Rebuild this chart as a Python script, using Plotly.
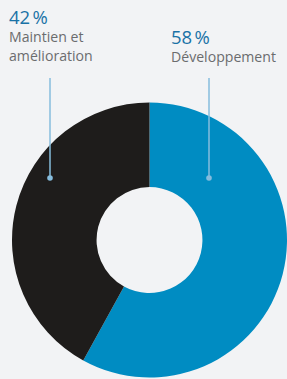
import plotly.graph_objects as go

categories = ["Développement", "Maintien et amélioration"]
values = [58, 42]
pct_labels = ["58\u202f%", "42\u202f%"]
name_labels = ["Développement", "Maintien et<br>amélioration"]
colors = ["#008cc2", "#1e1c1b"]

W, H = 287, 379
BG = "#f2f3f5"

def fx(px):
    return px / W

def fy(py):
    return 1 - py / H

fig = go.Figure(go.Pie(
    labels=categories,
    values=values,
    hole=0.385,
    sort=False,
    direction="clockwise",
    rotation=0,
    marker=dict(colors=colors, line=dict(width=0)),
    textinfo="none",
    hoverinfo="label+percent",
    showlegend=False,
    domain=dict(x=[fx(12), 1.0], y=[fy(377.5), fy(102.5)]),
))

FONT = "Open Sans"
BLUE_TXT = "#1a72a6"
GRAY_TXT = "#6b6c6e"
LINE = "#86bcdd"

annotations = []
# label blocks: (left x, top y)
blocks = [(170, 22.5), (8, 2.5)]
for (x0, y0), pct, name in zip(blocks, pct_labels, name_labels):
    txt = ("<span style='font-size:18.5px;color:%s'>%s</span><br>%s" % (BLUE_TXT, pct, name))
    annotations.append(dict(x=fx(x0), y=fy(y0), xref="paper", yref="paper",
                            xanchor="left", yanchor="top", showarrow=False, align="left",
                            text=txt, font=dict(family=FONT, size=14.1, color=GRAY_TXT),
                            borderpad=0))

shapes = []
for lx in (50, 209):
    shapes.append(dict(type="line", xref="paper", yref="paper",
                       x0=fx(lx), x1=fx(lx), y0=fy(78), y1=fy(178),
                       line=dict(color=LINE, width=1.5)))
    shapes.append(dict(type="circle", xref="paper", yref="paper",
                       x0=fx(lx - 2.8), x1=fx(lx + 2.8), y0=fy(178 - 2.8), y1=fy(178 + 2.8),
                       fillcolor=LINE, line=dict(width=0)))

fig.update_layout(
    width=W, height=H,
    margin=dict(l=0, r=0, t=0, b=0),
    paper_bgcolor=BG, plot_bgcolor=BG,
    annotations=annotations,
    shapes=shapes,
)

fig.write_html(
    "out.html",
    config={"displayModeBar": False},
    post_script="document.body.style.margin='0';document.body.style.padding='0';"
                "document.body.style.overflow='hidden';document.body.style.background='%s';" % BG,
)
